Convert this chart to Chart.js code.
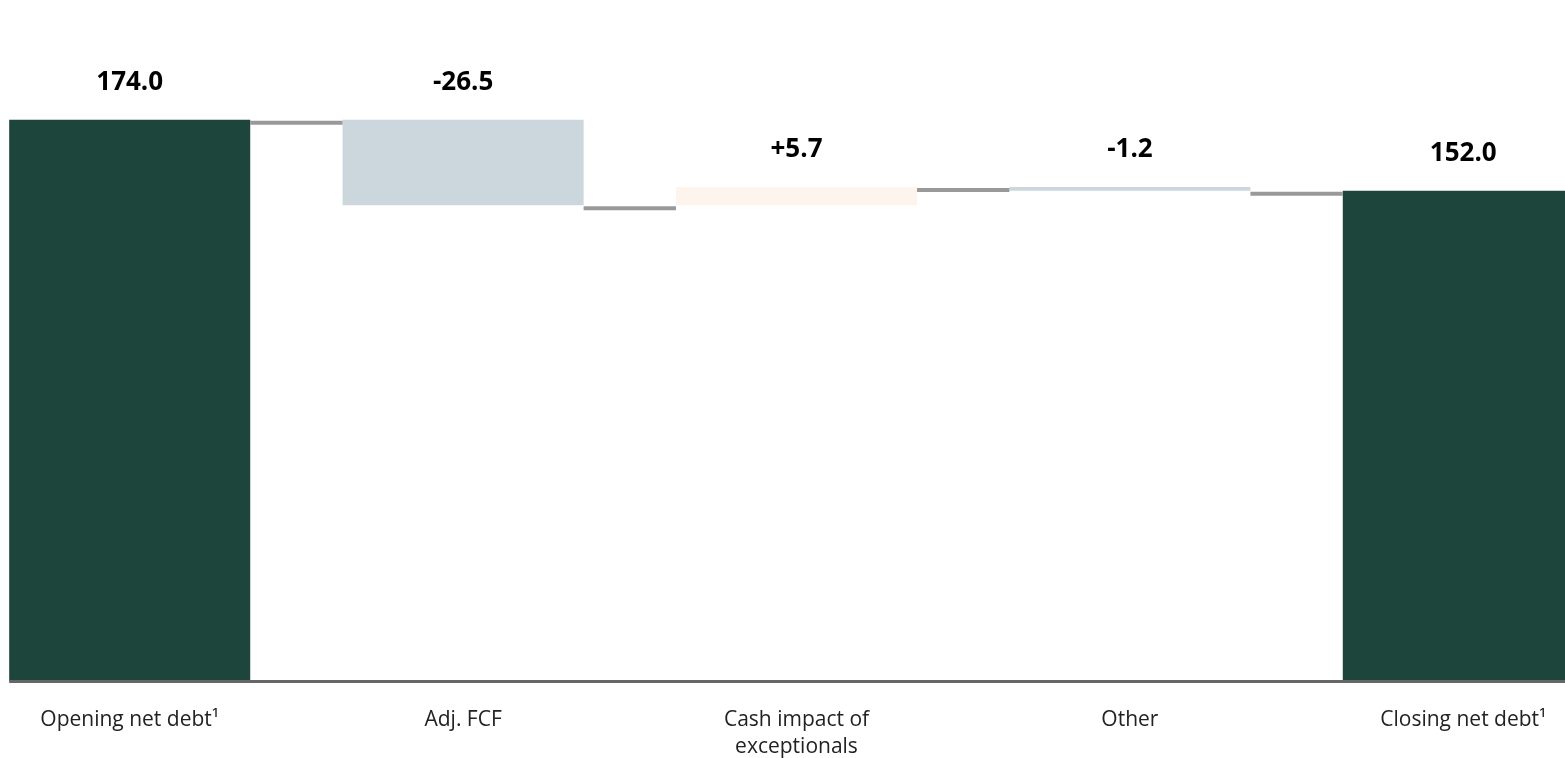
<!DOCTYPE html>
<html>
<head>
<meta charset="utf-8">
<script src="https://cdn.jsdelivr.net/npm/chart.js@4.4.1/dist/chart.umd.min.js"></script>
<style>
  html, body { margin: 0; padding: 0; background: #ffffff; overflow: hidden; width: 1565px; height: 758px; }
  #wrap { position: absolute; left: -37px; top: 0; width: 1667px; height: 758px; }
</style>
</head>
<body>
<div id="wrap"><canvas id="c"></canvas></div>
<script>
// ---- data ----
const categories = ['Opening net debt¹', 'Adj. FCF', ['Cash impact of', 'exceptionals'], 'Other', 'Closing net debt¹'];
const openingValue = 174.0;
const stepChanges = [-26.5, 5.7, -1.2];
const closingValue = 152.0;
const valueLabels = ['174.0', '-26.5', '+5.7', '-1.2', '152.0'];
const barColors = ['#1d453b', '#cbd7dd', '#fdf4ee', '#cbd7dd', '#1d453b'];

// build floating ranges for the waterfall
const ranges = [[0, openingValue]];
const levels = [openingValue];
let running = openingValue;
stepChanges.forEach(ch => {
  const next = Math.round((running + ch) * 10) / 10;
  ranges.push([Math.min(running, next), Math.max(running, next)]);
  levels.push(next);
  running = next;
});
ranges.push([0, closingValue]);
levels.push(closingValue);

const FONT = '"Open Sans", "Noto Sans", "DejaVu Sans", sans-serif';

const waterfallPlugin = {
  id: 'waterfall',
  afterDatasetsDraw(chart) {
    const ctx = chart.ctx;
    const meta = chart.getDatasetMeta(0);
    const y = chart.scales.y;
    const els = meta.data;
    ctx.save();
    // connectors
    ctx.strokeStyle = '#999999';
    ctx.lineWidth = 4;
    for (let i = 0; i < els.length - 1; i++) {
      const a = els[i], b = els[i + 1];
      const py = y.getPixelForValue(levels[i]) + 3;
      ctx.beginPath();
      ctx.moveTo(a.x + a.width / 2, py);
      ctx.lineTo(b.x - b.width / 2, py);
      ctx.stroke();
    }
    // baseline
    const first = els[0], last = els[els.length - 1];
    ctx.strokeStyle = '#666666';
    ctx.lineWidth = 3;
    ctx.beginPath();
    ctx.moveTo(first.x - first.width / 2, chart.chartArea.bottom + 0.5);
    ctx.lineTo(last.x + last.width / 2, chart.chartArea.bottom + 0.5);
    ctx.stroke();
    // value labels
    ctx.fillStyle = '#000000';
    ctx.font = 'bold 26px ' + FONT;
    ctx.textAlign = 'center';
    ctx.textBaseline = 'middle';
    els.forEach((el, i) => {
      const top = Math.min(el.y, el.base);
      ctx.fillText(valueLabels[i], el.x, top - 37);
    });
    ctx.restore();
  }
};

new Chart(document.getElementById('c'), {
  type: 'bar',
  data: {
    labels: categories,
    datasets: [{
      data: ranges,
      backgroundColor: barColors,
      borderWidth: 0,
      barPercentage: 0.723,
      categoryPercentage: 1.0
    }]
  },
  options: {
    responsive: true,
    maintainAspectRatio: false,
    animation: false,
    layout: { padding: { top: 36, left: 0, right: 0, bottom: 0 } },
    plugins: { legend: { display: false }, tooltip: { enabled: false } },
    scales: {
      x: {
        grid: { display: false, drawTicks: false },
        border: { display: false },
        ticks: {
          color: '#222222',
          font: { family: FONT, size: 21, lineHeight: 1.3 },
          padding: 25,
          maxRotation: 0,
          autoSkip: false
        },
        afterFit(scale) { scale.height = 77; }
      },
      y: {
        display: false,
        min: 0,
        max: 200
      }
    }
  },
  plugins: [waterfallPlugin]
});
</script>
</body>
</html>
